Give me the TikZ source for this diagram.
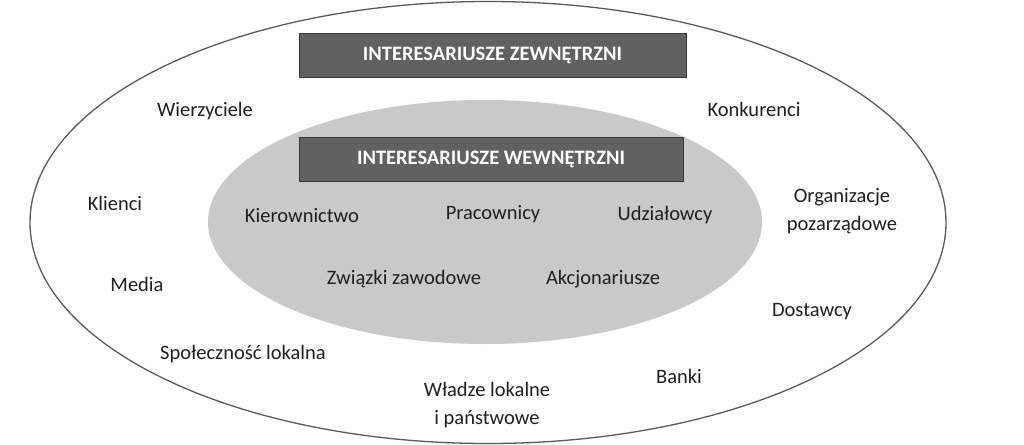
\documentclass[tikz,border=0pt]{standalone}
\usepackage{fontspec}
\setmainfont{Carlito}
\begin{document}
\begin{tikzpicture}[x=1pt, y=-1pt,
	lbl/.style={font=\fontsize{20.5}{28}\selectfont, text=black!88, align=center, inner sep=0pt},
	titlebox/.style={draw=black!78, fill=black!62, line width=0.8pt, minimum width=387pt, minimum height=44pt, text=white, font=\fontsize{20.5}{24}\selectfont\bfseries}]
	\useasboundingbox (0,0) rectangle (1024,444);
	% outer and inner ellipse
	\draw[black!65, line width=1.3pt] (488,222.5) ellipse [x radius=458, y radius=221];
	\fill[black!21] (485,222) ellipse [x radius=277, y radius=122];
	% title boxes
	\node[titlebox] (zewn) at (492.5,55) {INTERESARIUSZE ZEWNĘTRZNI};
	\node[titlebox, minimum width=384pt] (wewn) at (491,159) {INTERESARIUSZE WEWNĘTRZNI};
	% internal stakeholders
	\node[lbl] (kier) at (302,216) {Kierownictwo};
	\node[lbl] (prac) at (493,214) {Pracownicy};
	\node[lbl] (udz) at (665,215) {Udziałowcy};
	\node[lbl] (zwi) at (404,279) {Związki zawodowe};
	\node[lbl] (akc) at (603,279) {Akcjonariusze};
	% external stakeholders
	\node[lbl] (wier) at (205,111) {Wierzyciele};
	\node[lbl] (konk) at (754,109) {Konkurenci};
	\node[lbl] (kli) at (115,203) {Klienci};
	\node[lbl] (org) at (842,211) {Organizacje\\pozarządowe};
	\node[lbl] (med) at (137,284) {Media};
	\node[lbl] (dost) at (812,312) {Dostawcy};
	\node[lbl] (spol) at (243,354) {Społeczność lokalna};
	\node[lbl] (bank) at (679,376) {Banki};
	\node[lbl] (wladz) at (487,405) {Władze lokalne\\i państwowe};
\end{tikzpicture}
\end{document}
